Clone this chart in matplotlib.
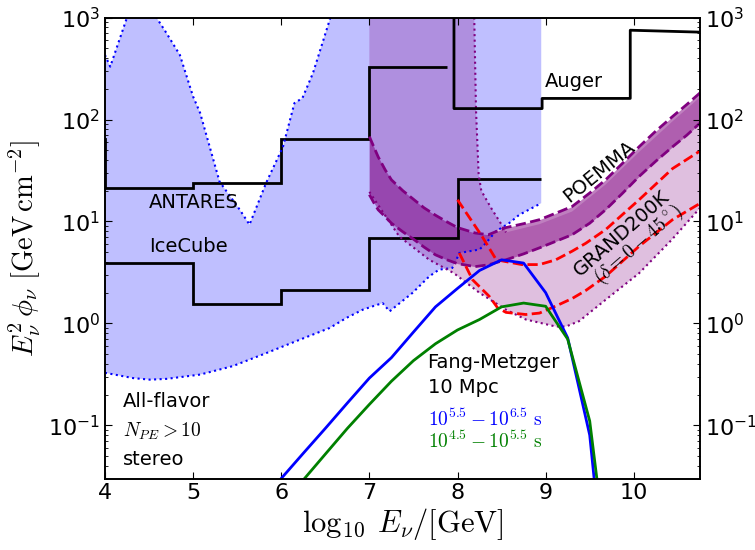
import numpy as np
import matplotlib
matplotlib.use("Agg")
import matplotlib.pyplot as plt

plt.rcParams["font.family"] = "DejaVu Sans"
plt.rcParams["mathtext.fontset"] = "cm"
plt.rcParams["axes.linewidth"] = 1.2

# IceCube / ANTARES ToO band (upper and lower edge)
band_hi_x = [4.0, 4.06, 4.25, 4.40, 4.585, 4.70, 4.85, 5.0, 5.08, 5.30, 5.53,
             5.64, 5.83, 6.02, 6.15, 6.24, 6.36, 6.55, 6.65, 8.95]
band_hi_y = [430, 330, 1000, 1060, 1000, 700, 430, 168, 116, 24.6, 13,
             9.3, 24, 54, 145, 162, 285, 950, 2000, 2000]
band_lo_x = [4.0, 4.32, 4.51, 4.70, 5.08, 5.45, 5.83, 6.21, 6.55, 6.74, 6.925,
             7.04, 7.15, 7.23, 7.30, 7.49, 7.68, 7.79, 7.94, 7.98, 8.02, 8.25,
             8.32, 8.435, 8.585, 8.70, 8.95]
band_lo_y = [0.327, 0.29, 0.28, 0.285, 0.314, 0.38, 0.51, 0.69, 0.90, 1.13, 1.36,
             1.47, 1.58, 1.31, 1.47, 1.99, 2.89, 3.36, 3.49, 4.06, 4.9, 5.3,
             6.1, 8.0, 9.6, 11.6, 15.1]

# GRAND200K declination band
grand_lo_x = [7.0, 7.34, 7.68, 7.96, 8.25, 8.55, 8.775, 9.115, 9.23, 9.38,
              9.68, 10.06, 10.43, 10.75]
grand_lo_y = [19.5, 7.1, 4.2, 3.1, 1.99, 1.36, 1.09, 0.93, 0.93, 1.05,
              1.7, 3.1, 6.6, 13.5]
grand_hi_x = [7.0, 8.19, 8.21, 8.24, 8.27, 8.38, 8.49, 8.55, 8.93, 9.30,
              9.68, 10.06, 10.44, 10.75]
grand_hi_y = [3000, 1000, 124, 28.7, 20, 13.6, 9.6, 7.8, 9.4, 12.5,
              23, 48, 96, 165]

# GRAND200K dashed curves
grand_a_x = [8.0, 8.28, 8.44, 8.73, 8.93, 9.115, 9.30, 9.455, 9.68, 10.06, 10.44, 10.75]
grand_a_y = [16.3, 7.1, 4.2, 3.77, 3.77, 4.2, 5.1, 6.1, 8.3, 16.3, 33, 49]
grand_b_x = [8.02, 8.17, 8.36, 8.455, 8.55, 8.775, 8.93, 9.11, 9.30, 9.455,
             9.68, 10.06, 10.44, 10.75]
grand_b_y = [4.9, 2.68, 1.84, 1.42, 1.28, 1.22, 1.26, 1.47, 1.75, 2.1,
             2.89, 5.7, 10.4, 15.0]

# POEMMA band
poemma_x = [7.0, 7.05, 7.1, 7.18, 7.25, 7.38, 7.5, 7.62, 7.75, 7.88, 8.0, 8.2,
            8.35, 8.55, 8.75, 8.93, 9.1, 9.3, 9.5, 9.68, 9.87, 10.06, 10.25,
            10.44, 10.6, 10.75]
poemma_lo = [18.3, 15.3, 13, 11.1, 9.6, 7.9, 6.7, 5.6, 4.7, 4.2, 3.85, 3.6,
             3.75, 4.2, 4.8, 5.5, 6.3, 7.4, 9.6, 13, 18.8, 27.6, 39, 54, 70, 92]
poemma_hi = [68, 54, 43, 32, 25.6, 20, 16.5, 13.6, 11.5, 9.9, 8.7, 7.7,
             7.4, 8.7, 9.5, 10.4, 11.9, 14, 19, 25.6, 37, 54, 77, 107, 140, 182]

# step limits
antares_edges = [3.5, 4.0, 5.0, 6.0, 7.0, 7.88]
antares_vals = [65, 21.2, 23.8, 64.6, 331]
icecube_edges = [4.0, 5.0, 6.0, 7.0, 8.0, 8.95]
icecube_vals = [3.9, 1.55, 2.1, 6.8, 26]
auger_x = [7.96, 7.96, 8.96, 8.96, 9.96, 9.96, 10.75]
auger_y = [3000, 128, 128, 161, 161, 752, 720]

# Fang-Metzger fluxes
fm_x = [6.0, 6.25, 6.5, 6.75, 7.0, 7.25, 7.5, 7.75, 8.0, 8.25, 8.5, 8.75,
        9.0, 9.25, 9.5, 9.75]
fm_long = [0.030, 0.053, 0.093, 0.165, 0.29, 0.46, 0.82, 1.45, 2.2, 3.3, 4.2,
           3.9, 2.0, 0.72, 0.08, 6e-4]
fm_short = [0.016, 0.029, 0.052, 0.093, 0.16, 0.27, 0.43, 0.63, 0.86, 1.09,
            1.45, 1.58, 1.47, 0.70, 0.11, 2e-3]

fig = plt.figure(figsize=(7.55, 5.5), dpi=100)
ax = fig.add_axes([0.139, 0.130, 0.788, 0.838])

# IceCube band
poly_x = np.concatenate([band_lo_x, band_hi_x[::-1]])
poly_y = np.concatenate([band_lo_y, band_hi_y[::-1]])
ax.fill(poly_x, poly_y, color="blue", alpha=0.25, lw=0)
ax.plot(band_lo_x, band_lo_y, ":", color="blue", lw=1.5)
ax.plot(band_hi_x, band_hi_y, ":", color="blue", lw=1.5)

# GRAND band
poly_x = np.concatenate([grand_lo_x, grand_hi_x[::-1]])
poly_y = np.concatenate([grand_lo_y, grand_hi_y[::-1]])
ax.fill(poly_x, poly_y, color="purple", alpha=0.25, lw=0)
ax.plot(grand_lo_x, grand_lo_y, ":", color="purple", lw=1.5)
ax.plot(grand_hi_x[:8], grand_hi_y[:8], ":", color="purple", lw=1.5)

# POEMMA band
ax.fill_between(poemma_x, poemma_lo, poemma_hi, color="purple", alpha=0.5, lw=0)
ax.plot(poemma_x, poemma_lo, "--", color="purple", lw=2)
ax.plot(poemma_x, poemma_hi, "--", color="purple", lw=2)

ax.plot(grand_a_x, grand_a_y, "--", color="red", lw=2)
ax.plot(grand_b_x, grand_b_y, "--", color="red", lw=2)

ax.stairs(antares_vals, antares_edges, color="black", lw=2, baseline=None)
ax.stairs(icecube_vals, icecube_edges, color="black", lw=2, baseline=None)
ax.plot(auger_x, auger_y, color="black", lw=2)

ax.plot(fm_x, fm_long, color="blue", lw=2)
ax.plot(fm_x, fm_short, color="green", lw=2)

ax.set_yscale("log")
ax.set_xlim(4, 10.75)
ax.set_ylim(0.03, 1000)
ax.set_xticks([4, 5, 6, 7, 8, 9, 10])
ax.tick_params(which="both", direction="in", top=True, right=False, labelsize=16)
ax.tick_params(which="major", length=5)
ax.tick_params(which="minor", length=2.5)

ax2 = ax.twinx()
ax2.set_yscale("log")
ax2.set_ylim(0.03, 1000)
ax2.tick_params(which="both", direction="in", labelsize=16)
ax2.tick_params(which="major", length=5)
ax2.tick_params(which="minor", length=2.5)

ax.set_xlabel(r"$\log_{10}\;E_\nu/[\mathrm{GeV}]$", fontsize=22, labelpad=2)
ax.set_ylabel(r"$E_\nu^2\,\phi_\nu\ [\mathrm{GeV\,cm^{-2}}]$", fontsize=20.5)

ax.text(4.5, 15.3, "ANTARES", fontsize=14, va="center")
ax.text(4.5, 5.7, "IceCube", fontsize=14, va="center")
ax.text(8.99, 234, "Auger", fontsize=14, va="center")
ax.text(9.606, 30.7, "POEMMA", fontsize=14, rotation=39, ha="center", va="center")
ax.text(9.866, 7.7, "GRAND200K", fontsize=14, rotation=41, ha="center", va="center")
ax.text(10.06, 5.9, r"$(\delta = 0 - 45^\circ)$", fontsize=14, rotation=41,
        ha="center", va="center")
ax.text(4.2, 0.172, "All-flavor", fontsize=14, va="center")
ax.text(4.2, 0.087, r"$N_{PE} > 10$", fontsize=14, va="center")
ax.text(4.2, 0.046, "stereo", fontsize=14, va="center")
ax.text(7.66, 0.41, "Fang-Metzger", fontsize=14, va="center")
ax.text(7.66, 0.234, "10 Mpc", fontsize=14, va="center")
ax.text(7.66, 0.114, r"$10^{5.5} - 10^{6.5}\ \mathrm{s}$", fontsize=14,
        va="center", color="blue")
ax.text(7.66, 0.0697, r"$10^{4.5} - 10^{5.5}\ \mathrm{s}$", fontsize=14,
        va="center", color="green")

fig.savefig("out.png", dpi=100)
